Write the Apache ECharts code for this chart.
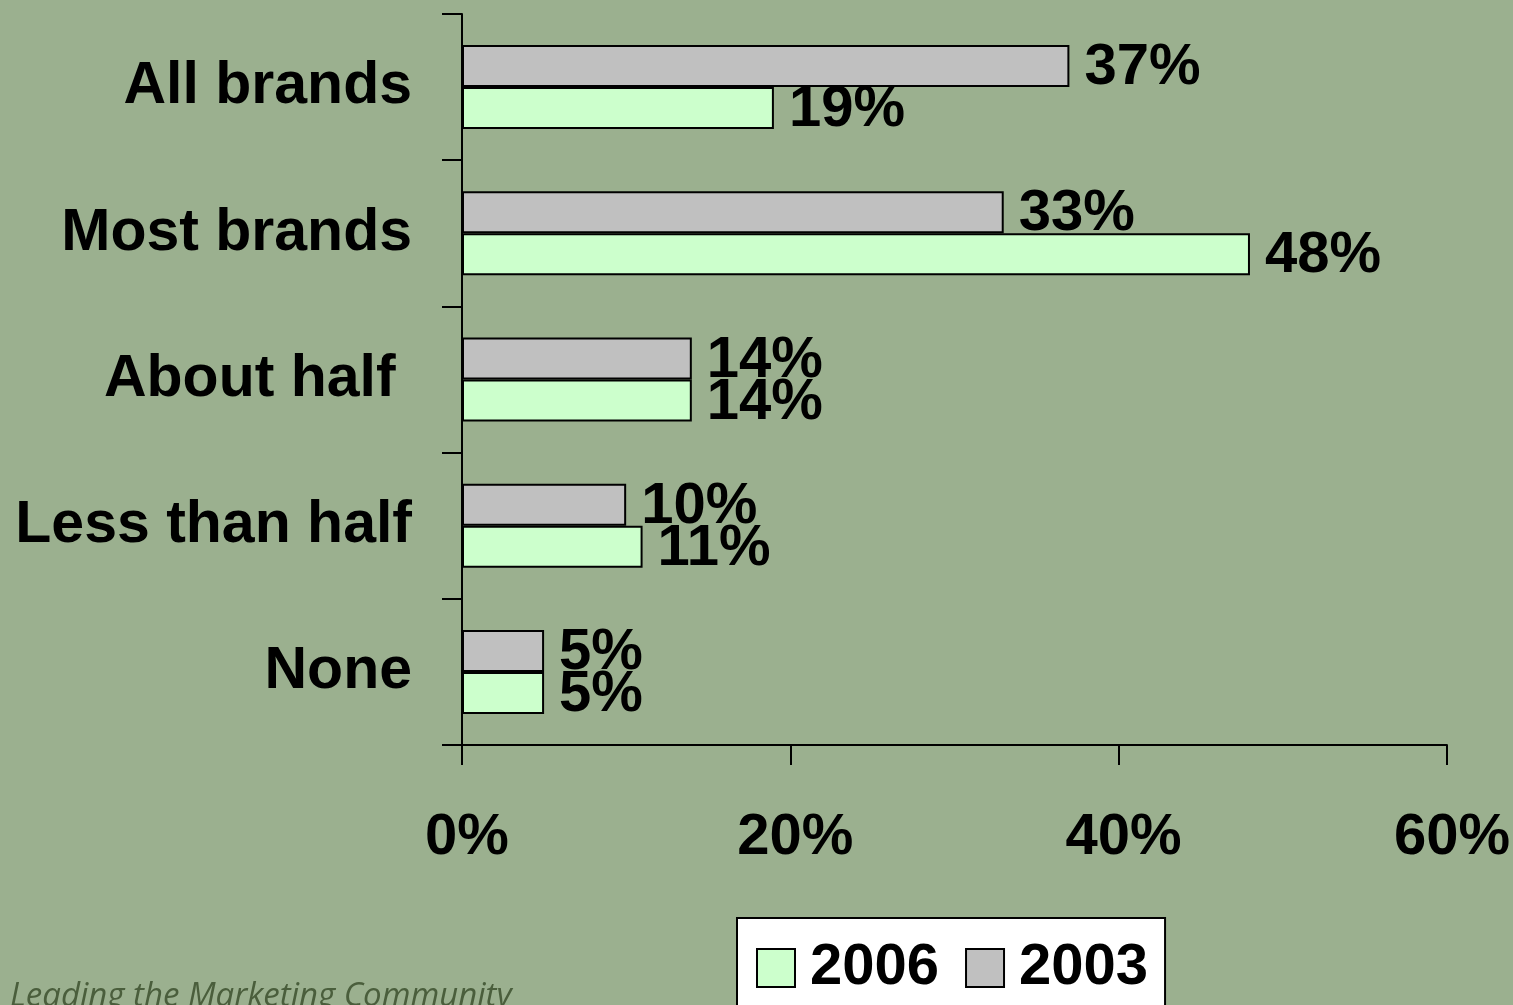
<!DOCTYPE html>
<html>
<head>
<meta charset="utf-8">
<script src="https://cdn.jsdelivr.net/npm/echarts@6/dist/echarts.min.js"></script>
<style>
html,body{margin:0;padding:0;background:#9BB08F;}
#chart{width:1513px;height:1005px;}
</style>
</head>
<body>
<div id="chart"></div>
<script>
const categories = ['All brands', 'Most brands', 'About half ', 'Less than half', 'None'];
const values2003 = [37, 33, 14, 10, 5];
const values2006 = [19, 48, 14, 11, 5];
const seriesNames = ['2006', '2003'];

const FONT = '"Liberation Sans", Arial, sans-serif';
const chart = echarts.init(document.getElementById('chart'));
const labelStyle = {
  show: true, position: 'right', distance: 15, offset: [0, 2],
  formatter: '{c}%', color: '#000', fontSize: 58, fontWeight: 'bold', fontFamily: FONT
};
chart.setOption({
  backgroundColor: '#9BB08F',
  animation: false,
  grid: { left: 462, right: 66, top: 14, bottom: 260, containLabel: false },
  xAxis: {
    type: 'value', min: 0, max: 60, interval: 20,
    axisLine: { show: true, lineStyle: { color: '#000', width: 2 } },
    axisTick: { show: true, length: 20, lineStyle: { color: '#000', width: 2 } },
    splitLine: { show: false },
    axisLabel: { formatter: '{value}%', margin: 64, padding: [0, 0, 0, 10], color: '#000', fontSize: 58, fontWeight: 'bold', fontFamily: FONT }
  },
  yAxis: {
    type: 'category', data: categories, inverse: true,
    axisLine: { show: true, lineStyle: { color: '#000', width: 2 } },
    axisTick: { show: true, length: 20, alignWithLabel: false, lineStyle: { color: '#000', width: 2 } },
    axisLabel: { margin: 50, padding: [4, 0, 0, 0], color: '#000', fontSize: 59, fontWeight: 'bold', fontFamily: FONT }
  },
  legend: {
    data: seriesNames,
    left: 737, top: 918,
    backgroundColor: '#fff', borderColor: '#000', borderWidth: 2,
    padding: [21, 17, 40, 19],
    itemWidth: 38, itemHeight: 38, itemGap: 26,
    icon: 'rect',
    textStyle: { color: '#000', fontSize: 58, fontWeight: 'bold', fontFamily: FONT, padding: [0, 0, 0, 10] }
  },
  series: [
    {
      name: '2003', type: 'bar', data: values2003, barWidth: 42, barGap: '0%',
      itemStyle: { color: '#C0C0C0', borderColor: '#000', borderWidth: 2 },
      label: labelStyle
    },
    {
      name: '2006', type: 'bar', data: values2006, barWidth: 42, barGap: '0%',
      itemStyle: { color: '#CCFFCC', borderColor: '#000', borderWidth: 2 },
      label: labelStyle
    }
  ],
  graphic: [{
    type: 'text', left: 10, top: 980,
    style: { text: 'Leading the Marketing Community', fontSize: 33, fontStyle: 'italic', fontFamily: '"Open Sans", sans-serif', fill: '#4a5e3c' }
  }]
});
</script>
</body>
</html>
